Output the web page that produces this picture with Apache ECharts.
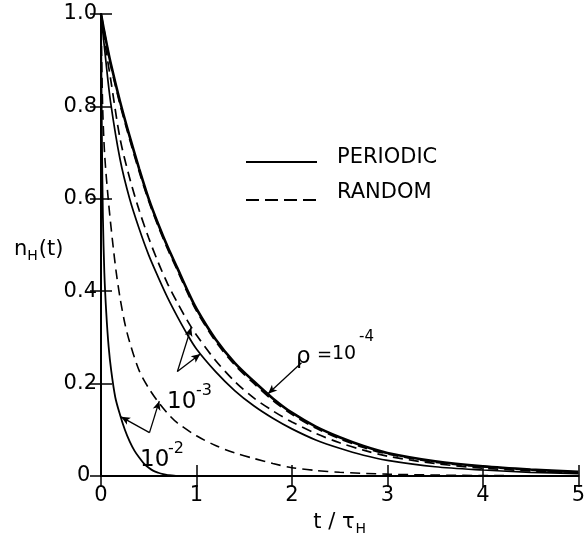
<!DOCTYPE html>
<html>
<head>
<meta charset="UTF-8">
<title>nH(t)</title>
<script src="https://cdn.jsdelivr.net/npm/echarts@6/dist/echarts.min.js"></script>
</head>
<body style="margin:0;background:#fff">
<div id="main" style="width:588px;height:541px;"></div>
<script>
    // t / tau_H grid shared by the rho = 1e-4 and 1e-3 curves
    var tMain = [0, 0.05, 0.1, 0.2, 0.3, 0.4, 0.5, 0.6, 0.7, 0.8, 0.9, 1.0, 1.2, 1.4, 1.6, 1.8, 2.0, 2.25, 2.5, 2.75, 3.0, 3.5, 4.0, 4.5, 5.0];
    var periodic4 = [1, 0.945, 0.895, 0.81, 0.735, 0.665, 0.60, 0.545, 0.495, 0.45, 0.404, 0.362, 0.296, 0.245, 0.205, 0.168, 0.137, 0.107, 0.084, 0.065, 0.050, 0.032, 0.021, 0.014, 0.009];
    var random4 = [1, 0.943, 0.891, 0.805, 0.73, 0.66, 0.596, 0.541, 0.491, 0.446, 0.40, 0.358, 0.292, 0.241, 0.201, 0.164, 0.134, 0.104, 0.081, 0.062, 0.048, 0.030, 0.020, 0.013, 0.008];
    var periodic3 = [1, 0.90, 0.81, 0.685, 0.60, 0.535, 0.478, 0.43, 0.385, 0.345, 0.308, 0.275, 0.226, 0.185, 0.152, 0.125, 0.102, 0.078, 0.06, 0.045, 0.034, 0.02, 0.013, 0.008, 0.005];
    var random3 = [1, 0.925, 0.86, 0.73, 0.645, 0.575, 0.515, 0.462, 0.415, 0.375, 0.338, 0.305, 0.25, 0.205, 0.169, 0.141, 0.117, 0.092, 0.072, 0.056, 0.043, 0.027, 0.017, 0.011, 0.007];

    // rho = 1e-2
    var tP2 = [0, 0.005, 0.01, 0.02, 0.035, 0.055, 0.08, 0.107, 0.15, 0.2, 0.25, 0.3, 0.35, 0.4, 0.45, 0.5, 0.55, 0.6, 0.65, 0.7, 0.8, 1.0, 5.0];
    var periodic2 = [1, 0.85, 0.72, 0.56, 0.44, 0.354, 0.28, 0.228, 0.17, 0.132, 0.1, 0.075, 0.055, 0.04, 0.027, 0.018, 0.011, 0.007, 0.004, 0.002, 0, 0, 0];
    var tR2 = [0, 0.01, 0.02, 0.04, 0.08, 0.12, 0.16, 0.2, 0.25, 0.3, 0.4, 0.5, 0.6, 0.7, 0.8, 1.0, 1.2, 1.4, 1.6, 1.8, 2.0, 2.25, 2.5, 3.0, 3.5, 4.0, 5.0];
    var random2 = [1, 0.87, 0.78, 0.69, 0.59, 0.51, 0.44, 0.385, 0.33, 0.29, 0.228, 0.19, 0.16, 0.135, 0.115, 0.087, 0.066, 0.05, 0.038, 0.027, 0.018, 0.012, 0.008, 0.004, 0.002, 0.001, 0];

    var xTicks = [0, 1, 2, 3, 4, 5];
    var yTicks = ['0 ', '0.2', '0.4', '0.6', '0.8', '1.0'];

    function pairs(t, v) {
        var out = [];
        for (var i = 0; i < t.length; i++) out.push([t[i], v[i]]);
        return out;
    }

    var font = 'DejaVu Sans';
    var dash = [10, 6];

    function curve(t, v, width, type) {
        return {
            type: 'line',
            data: pairs(t, v),
            showSymbol: false,
            smooth: 0.3,
            lineStyle: {color: '#000', width: width, type: type},
            silent: true
        };
    }

    var myChart = echarts.init(document.getElementById('main'));

    var axisCommon = {
        type: 'value',
        axisLine: {show: true, lineStyle: {color: '#000', width: 2}},
        axisTick: {show: true, inside: true, length: 11, lineStyle: {color: '#000', width: 1.5}},
        splitLine: {show: false}
    };

    var arrows = [
        [{coord: [2.1, 0.245]}, {coord: [1.75, 0.178]}],
        [{coord: [0.80, 0.226]}, {coord: [0.945, 0.322]}],
        [{coord: [0.80, 0.226]}, {coord: [1.04, 0.264]}],
        [{coord: [0.508, 0.094]}, {coord: [0.21, 0.128]}],
        [{coord: [0.508, 0.094]}, {coord: [0.61, 0.162]}]
    ];

    var option = {
        animation: false,
        backgroundColor: '#fff',
        grid: {left: 101, right: 9, top: 14, bottom: 53}
    };

    option.xAxis = [
        Object.assign({}, axisCommon, {
            min: 0, max: 5, interval: 1, position: 'bottom',
            axisLabel: {color: '#000', fontFamily: font, fontSize: 21, margin: 9,
                formatter: function (v) { return xTicks.indexOf(v) >= 0 ? String(v) : ''; }},
            name: 't / τ{sub|H}',
            nameLocation: 'middle',
            nameGap: 34,
            nameTextStyle: {color: '#000', fontFamily: font, fontSize: 21,
                rich: {sub: {fontFamily: font, fontSize: 14, color: '#000', padding: [12, 0, 0, 1]}}}
        }),
        Object.assign({}, axisCommon, {
            min: 0, max: 5, interval: 1, position: 'top',
            axisLabel: {show: false}
        })
    ];
    option.yAxis = [
        Object.assign({}, axisCommon, {
            min: 0, max: 1, interval: 0.2, position: 'left',
            axisLabel: {color: '#000', fontFamily: font, fontSize: 21, margin: 4,
                formatter: function (v) { return yTicks[Math.round(v * 5)]; }}
        }),
        Object.assign({}, axisCommon, {
            min: 0, max: 1, interval: 0.2, position: 'right',
            axisLabel: {show: false}
        })
    ];

    option.series = [
        curve(tMain, periodic4, 2.6, 'solid'),
        curve(tMain, random4, 2, dash),
        curve(tMain, periodic3, 1.7, 'solid'),
        curve(tMain, random3, 1.7, dash),
        curve(tP2, periodic2, 1.8, 'solid'),
        curve(tR2, random2, 1.6, dash),
        {
            type: 'line',
            data: [],
            silent: true,
            markLine: {
                silent: true,
                symbol: ['none', 'arrow'],
                symbolSize: [6, 9],
                label: {show: false},
                lineStyle: {color: '#000', width: 1.3, type: 'solid'},
                data: arrows
            }
        }
    ];

    var txt = {fill: '#000', fontFamily: font};
    option.graphic = [
        // legend
        {type: 'line', shape: {x1: 246, y1: 162, x2: 317, y2: 162}, style: {stroke: '#000', lineWidth: 2}},
        {type: 'text', x: 337, y: 158, style: Object.assign({text: 'PERIODIC', fontSize: 21, verticalAlign: 'middle'}, txt)},
        {type: 'line', shape: {x1: 246, y1: 200, x2: 317, y2: 200}, style: {stroke: '#000', lineWidth: 2, lineDash: [13, 6]}},
        {type: 'text', x: 337, y: 193, style: Object.assign({text: 'RANDOM', fontSize: 21, verticalAlign: 'middle'}, txt)},
        // y axis name
        {type: 'text', x: 14, y: 250, style: Object.assign({
            text: 'n{sub|H}(t)', fontSize: 21, verticalAlign: 'middle',
            rich: {sub: {fontFamily: font, fontSize: 14, fill: '#000', padding: [12, 1, 0, 0]}}
        }, txt)},
        // rho = 10^-4
        {type: 'text', x: 296, y: 357, style: Object.assign({text: 'ρ', fontSize: 23, verticalAlign: 'middle'}, txt)},
        {type: 'text', x: 317, y: 355, style: Object.assign({text: '=', fontSize: 18, verticalAlign: 'middle'}, txt)},
        {type: 'text', x: 332, y: 354, style: Object.assign({text: '10', fontSize: 19, verticalAlign: 'middle'}, txt)},
        {type: 'text', x: 359, y: 337, style: Object.assign({text: '-4', fontSize: 15, verticalAlign: 'middle'}, txt)},
        // 10^-3
        {type: 'text', x: 167, y: 402, style: Object.assign({text: '10', fontSize: 23, verticalAlign: 'middle'}, txt)},
        {type: 'text', x: 196, y: 391, style: Object.assign({text: '-3', fontSize: 16, verticalAlign: 'middle'}, txt)},
        // 10^-2
        {type: 'text', x: 140, y: 460, style: Object.assign({text: '10', fontSize: 23, verticalAlign: 'middle'}, txt)},
        {type: 'text', x: 168, y: 449, style: Object.assign({text: '-2', fontSize: 16, verticalAlign: 'middle'}, txt)}
    ];

    myChart.setOption(option);
</script>
</body>
</html>
